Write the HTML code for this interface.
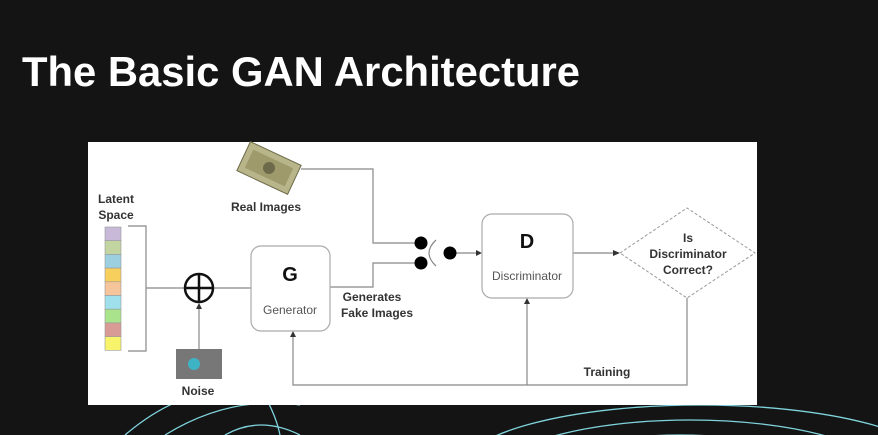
<!DOCTYPE html>
<html><head><meta charset="utf-8"><style>
html,body{margin:0;padding:0;background:#141414;width:878px;height:435px;overflow:hidden;}
svg{display:block;}
text{font-family:"Liberation Sans",sans-serif;}
</style></head><body>
<svg width="878" height="435" viewBox="0 0 878 435" xmlns="http://www.w3.org/2000/svg">
<rect width="878" height="435" fill="#141414"/>
<text x="22" y="86" font-size="42" font-weight="bold" fill="#fff" textLength="558" lengthAdjust="spacingAndGlyphs">The Basic GAN Architecture</text>
<g fill="none" stroke="#7fd3dc" stroke-width="1.3">
<path d="M125 435 Q190 380 250 395"/>
<path d="M165 435 Q230 395 300 405"/>
<path d="M255 380 Q275 410 280 435"/>
<path d="M225 435 Q260 415 300 435"/>
<ellipse cx="700" cy="470" rx="240" ry="65"/>
<ellipse cx="690" cy="480" rx="200" ry="60"/>
<ellipse cx="680" cy="490" rx="160" ry="55"/>
</g>
<rect x="88" y="142" width="669" height="263" fill="#fff"/>
<g transform="translate(269,168) rotate(25)">
<rect x="-28" y="-16" width="56" height="32" fill="#b9b58a" stroke="#6c6a4a"/>
<rect x="-22" y="-10" width="44" height="20" fill="#9e9a6c"/>
<circle cx="0" cy="0" r="6" fill="#6c6a4a"/>
</g>
<g font-weight="bold" fill="#333" font-size="12" text-anchor="middle">
<text x="266" y="211">Real Images</text>
<text x="116" y="203">Latent</text>
<text x="116" y="219">Space</text>
<text x="198" y="395">Noise</text>
<text x="372" y="301">Generates</text>
<text x="377" y="317">Fake Images</text>
<text x="607" y="376">Training</text>
<text x="688" y="242">Is</text>
<text x="688" y="258">Discriminator</text>
<text x="688" y="274">Correct?</text>
</g>
<g stroke="#999" stroke-width="0.6">
<rect x="105" y="227" width="16" height="13.7" fill="#c9b9d9"/>
<rect x="105" y="240.7" width="16" height="13.7" fill="#c2d4a0"/>
<rect x="105" y="254.4" width="16" height="13.7" fill="#9ccfe0"/>
<rect x="105" y="268.1" width="16" height="13.7" fill="#f7cf5c"/>
<rect x="105" y="281.8" width="16" height="13.7" fill="#f6c49a"/>
<rect x="105" y="295.5" width="16" height="13.7" fill="#9fe0ec"/>
<rect x="105" y="309.2" width="16" height="13.7" fill="#a9e38b"/>
<rect x="105" y="322.9" width="16" height="13.7" fill="#d89b95"/>
<rect x="105" y="336.6" width="16" height="13.7" fill="#f7f36a"/>
</g>
<g fill="none" stroke="#888" stroke-width="1.2">
<path d="M128 226 H146 V351 H128"/>
<path d="M146 288 H251"/>
<path d="M199 349 V305"/>
<path d="M301 169 H373 V243 H421"/>
<path d="M330 287 H373 V263 H421"/>
<path d="M450 253 H478"/>
<path d="M573 253 H616"/>
<path d="M293 336 V385 H687 V298"/>
<path d="M527 385 V302"/>
<path d="M436 240 q-14 13 0 26" stroke="#888"/>
</g>
<g fill="#333">
<path d="M482 253 l-6 -3 v6z"/>
<path d="M620 253 l-7 -3 v6z"/>
<path d="M293 331 l-3 6 h6z"/>
<path d="M527 298 l-3 6 h6z"/>
<path d="M199 303 l-3 6 h6z"/>
<circle cx="421" cy="243" r="6.5" fill="#000"/>
<circle cx="421" cy="263" r="6.5" fill="#000"/>
<circle cx="450" cy="253" r="6.5" fill="#000"/>
</g>
<circle cx="199" cy="288" r="14" fill="#fff" stroke="#111" stroke-width="2.5"/>
<path d="M199 274 V302 M185 288 H213" stroke="#111" stroke-width="2.5"/>
<rect x="176" y="349" width="46" height="30" fill="#777"/>
<circle cx="194" cy="364" r="6" fill="#3fb3c6"/>
<rect x="251" y="246" width="79" height="85" rx="10" fill="#fff" stroke="#aaa" stroke-width="1.2"/>
<text x="290" y="281" font-size="20" font-weight="bold" text-anchor="middle" fill="#111">G</text>
<text x="290" y="314" font-size="12" text-anchor="middle" fill="#555">Generator</text>
<rect x="482" y="214" width="91" height="84" rx="10" fill="#fff" stroke="#aaa" stroke-width="1.2"/>
<text x="527" y="248" font-size="20" font-weight="bold" text-anchor="middle" fill="#111">D</text>
<text x="527" y="280" font-size="12" text-anchor="middle" fill="#555">Discriminator</text>
<path d="M620 253 L687 208 L755 253 L687 298 Z" fill="none" stroke="#999" stroke-dasharray="3,2"/>
</svg>
</body></html>
